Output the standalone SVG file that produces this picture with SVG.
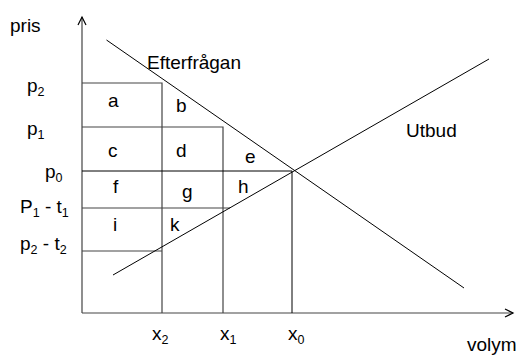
<svg xmlns="http://www.w3.org/2000/svg" width="518" height="356" viewBox="0 0 518 356">
<style>
text{font-family:"Liberation Sans",Arial,sans-serif;font-size:19px;fill:#000}
.s{font-size:12.5px}
.g{stroke:#444;stroke-width:1.2;fill:none}
.c{stroke:#000;stroke-width:1;fill:none}
</style>
<defs>
<marker id="arr" markerWidth="12" markerHeight="12" refX="9" refY="5" orient="auto" markerUnits="userSpaceOnUse">
<path d="M1,1 L9,5 L1,9" fill="none" stroke="#000" stroke-width="1.2"/>
</marker>
</defs>
<rect width="518" height="356" fill="#fff"/>
<g id="axes">
<line class="g" x1="82" y1="313" x2="82" y2="17" marker-end="url(#arr)"/>
<line class="g" x1="82" y1="313" x2="513" y2="313" marker-end="url(#arr)"/>
</g>
<g id="grid">
<polyline class="g" points="82,83 162,83 162,313"/>
<polyline class="g" points="82,127 223,127 223,313"/>
<polyline class="c" points="82,171 292,171 292,313"/>
<line class="g" x1="82" y1="208" x2="230" y2="208"/>
<line class="g" x1="82" y1="251" x2="162" y2="251"/>
</g>
<g id="connectors">
<line id="demand" class="c" x1="106.5" y1="40" x2="464" y2="288"/>
<line id="supply" class="c" x1="113" y1="275" x2="489" y2="59"/>
</g>
<g id="labels">
<text x="10" y="32">pris</text>
<text x="147" y="69">Efterfrågan</text>
<text x="406" y="137">Utbud</text>
<text x="467" y="351">volym</text>
<text x="27" y="92">p<tspan class="s" dy="4">2</tspan></text>
<text x="27" y="135">p<tspan class="s" dy="4">1</tspan></text>
<text x="45" y="178">p<tspan class="s" dy="4">0</tspan></text>
<text x="20" y="213">P<tspan class="s" dy="4">1</tspan><tspan dy="-4"> - t</tspan><tspan class="s" dy="4">1</tspan></text>
<text x="20" y="250">p<tspan class="s" dy="4">2</tspan><tspan dy="-4"> - t</tspan><tspan class="s" dy="4">2</tspan></text>
<text x="152" y="340">x<tspan class="s" dy="4">2</tspan></text>
<text x="220" y="340">x<tspan class="s" dy="4">1</tspan></text>
<text x="288" y="340">x<tspan class="s" dy="4">0</tspan></text>
<text x="108" y="107">a</text>
<text x="176" y="112">b</text>
<text x="108" y="157">c</text>
<text x="176" y="157">d</text>
<text x="245" y="163">e</text>
<text x="113" y="193">f</text>
<text x="182" y="198">g</text>
<text x="238" y="193">h</text>
<text x="113" y="231">i</text>
<text x="170" y="231">k</text>
</g>
</svg>
